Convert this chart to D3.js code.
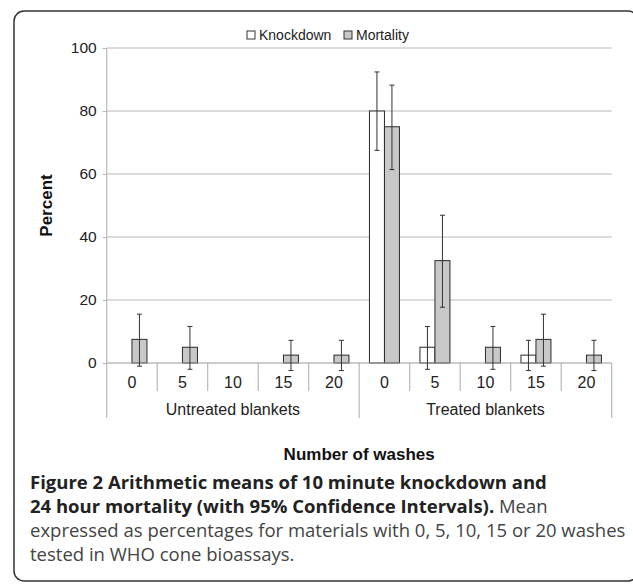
<!DOCTYPE html>
<html>
<head>
<meta charset="utf-8">
<script src="https://cdn.jsdelivr.net/npm/d3@7"></script>
<style>
  body { margin: 0; background: #fff; }
  svg { display: block; }
  .tick text { font-family: "Liberation Sans", Arial, sans-serif; }
</style>
</head>
<body>
<div id="chart"></div>
<script>
// data
var washes = ["0", "5", "10", "15", "20", "0", "5", "10", "15", "20"];
var groups = ["Untreated blankets", "Treated blankets"];
var series = ["Knockdown", "Mortality"];
var knockdown = [0, 0, 0, 0, 0, 80, 5, 0, 2.5, 0];
var mortality = [7.5, 5, 0, 2.5, 2.5, 75, 32.5, 5, 7.5, 2.5];
// 95% CI (null = no bar drawn)
var knockLow  = [null, null, null, null, null, 67.5, -2, null, -2.4, null];
var knockHigh = [null, null, null, null, null, 92.4, 11.6, null, 7.2, null];
var mortLow   = [-1, -2, null, -2.4, -2.4, 61.4, 17.7, -2, -1, -2.4];
var mortHigh  = [15.5, 11.6, null, 7.2, 7.2, 88.2, 46.9, 11.6, 15.5, 7.2];
var yTicks = [0, 20, 40, 60, 80, 100];

var W = 633, H = 584;
var plotLeft = 106.7, plotRight = 611.7, plotTop = 48, plotBottom = 363;

var svg = d3.select("#chart").append("svg")
  .attr("width", W).attr("height", H);

// frame (right edge runs just past the picture)
svg.append("rect")
  .attr("x", 14).attr("y", 11)
  .attr("width", 624).attr("height", 570)
  .attr("rx", 10)
  .attr("fill", "none").attr("stroke", "#333").attr("stroke-width", 1.5);

var idx = d3.range(washes.length);
var x = d3.scaleBand().domain(idx).range([plotLeft, plotRight]).padding(0);
var xs = d3.scaleBand().domain(series).range([0, 30]);
var y = d3.scaleLinear().domain([0, 100]).range([plotBottom, plotTop]);

// gridlines
svg.append("g").selectAll("line")
  .data(yTicks.filter(function(d) { return d > 0; }))
  .enter().append("line")
  .attr("x1", plotLeft).attr("x2", plotRight)
  .attr("y1", function(d) { return y(d); })
  .attr("y2", function(d) { return y(d); })
  .attr("stroke", "#b8b8b8").attr("stroke-width", 1.2);

// y axis
var yAxis = d3.axisLeft(y).tickValues(yTicks).tickSize(4).tickPadding(6);
var gy = svg.append("g")
  .attr("transform", "translate(" + plotLeft + ",0)")
  .call(yAxis);
gy.select(".domain").remove();
gy.selectAll(".tick line").attr("stroke", "#b8b8b8");
gy.selectAll(".tick text").attr("font-size", 15.5).attr("fill", "#222");

// vertical axis line, runs down to the group labels
svg.append("line")
  .attr("x1", plotLeft).attr("x2", plotLeft).attr("y1", plotTop).attr("y2", 418)
  .attr("stroke", "#b8b8b8").attr("stroke-width", 1.2);

// category separators
svg.append("g").selectAll("line")
  .data(d3.range(1, washes.length + 1))
  .enter().append("line")
  .attr("x1", function(i) { return plotLeft + i * x.bandwidth(); })
  .attr("x2", function(i) { return plotLeft + i * x.bandwidth(); })
  .attr("y1", plotBottom)
  .attr("y2", function(i) { return (i % 5 == 0) ? 418 : 391; })
  .attr("stroke", "#b8b8b8").attr("stroke-width", 1.2);

// bars
var bars = svg.append("g");
idx.forEach(function(i) {
  var cx = x(i) + x.bandwidth() / 2 - 15;
  [[knockdown[i], "#fff", "Knockdown"], [mortality[i], "#c8c8c8", "Mortality"]].forEach(function(b) {
    if (b[0] <= 0) return;
    bars.append("rect")
      .attr("x", cx + xs(b[2]))
      .attr("y", y(b[0]))
      .attr("width", xs.bandwidth())
      .attr("height", y(0) - y(b[0]))
      .attr("fill", b[1]).attr("stroke", "#2a2a2a").attr("stroke-width", 1);
  });
});

// zero line
svg.append("line")
  .attr("x1", plotLeft).attr("x2", plotRight).attr("y1", y(0)).attr("y2", y(0))
  .attr("stroke", "#999").attr("stroke-width", 1.2);

// error bars
var err = svg.append("g").attr("stroke", "#333").attr("stroke-width", 1);
function errorBar(i, s, lo, hi) {
  if (lo == null) return;
  var ex = x(i) + x.bandwidth() / 2 - 15 + xs(s) + xs.bandwidth() / 2;
  err.append("line").attr("x1", ex).attr("x2", ex).attr("y1", y(lo)).attr("y2", y(hi));
  err.append("line").attr("x1", ex - 2.5).attr("x2", ex + 2.5).attr("y1", y(lo)).attr("y2", y(lo));
  err.append("line").attr("x1", ex - 2.5).attr("x2", ex + 2.5).attr("y1", y(hi)).attr("y2", y(hi));
}
idx.forEach(function(i) {
  errorBar(i, "Knockdown", knockLow[i], knockHigh[i]);
  errorBar(i, "Mortality", mortLow[i], mortHigh[i]);
});

// category labels
var labelFont = "'Liberation Sans', Arial, sans-serif";
svg.append("g").selectAll("text")
  .data(idx).enter().append("text")
  .attr("x", function(i) { return x(i) + x.bandwidth() / 2; })
  .attr("y", 387.5)
  .attr("text-anchor", "middle")
  .attr("font-family", labelFont).attr("font-size", 16).attr("fill", "#222")
  .text(function(i) { return washes[i]; });

svg.append("g").selectAll("text")
  .data(groups).enter().append("text")
  .attr("x", function(d, g) { return x(g * 5) + 2.5 * x.bandwidth(); })
  .attr("y", 415)
  .attr("text-anchor", "middle")
  .attr("font-family", labelFont).attr("font-size", 16).attr("fill", "#222")
  .text(function(d) { return d; });

// axis titles
svg.append("text")
  .attr("transform", "translate(52," + ((plotTop + plotBottom) / 2) + ") rotate(-90)")
  .attr("text-anchor", "middle")
  .attr("font-family", labelFont).attr("font-size", 17).attr("font-weight", "bold").attr("fill", "#111")
  .text("Percent");

svg.append("text")
  .attr("x", (plotLeft + plotRight) / 2).attr("y", 460)
  .attr("text-anchor", "middle")
  .attr("font-family", labelFont).attr("font-size", 17).attr("font-weight", "bold").attr("fill", "#111")
  .text("Number of washes");

// legend
var leg = svg.append("g").attr("font-family", labelFont).attr("font-size", 14).attr("fill", "#222");
[[247, "#fff", series[0]], [344, "#c8c8c8", series[1]]].forEach(function(l) {
  leg.append("rect").attr("x", l[0]).attr("y", 31).attr("width", 8).attr("height", 8)
    .attr("fill", l[1]).attr("stroke", "#333").attr("stroke-width", 1);
  leg.append("text").attr("x", l[0] + 12).attr("y", 40).text(l[2]);
});

// figure caption
var cap = svg.append("g").attr("font-family", "'Open Sans', 'Noto Sans', sans-serif").attr("font-size", 18.5);
cap.append("text").attr("x", 30).attr("y", 489)
  .attr("font-weight", "bold").attr("fill", "#222")
  .text("Figure 2 Arithmetic means of 10 minute knockdown and");
var l2 = cap.append("text").attr("x", 30).attr("y", 513);
l2.append("tspan").attr("font-weight", "bold").attr("fill", "#222")
  .text("24 hour mortality (with 95% Confidence Intervals).");
l2.append("tspan").attr("fill", "#444").text(" Mean");
cap.append("text").attr("x", 30).attr("y", 537).attr("fill", "#444")
  .text("expressed as percentages for materials with 0, 5, 10, 15 or 20 washes");
cap.append("text").attr("x", 30).attr("y", 561).attr("fill", "#444")
  .text("tested in WHO cone bioassays.");
</script>
</body>
</html>
